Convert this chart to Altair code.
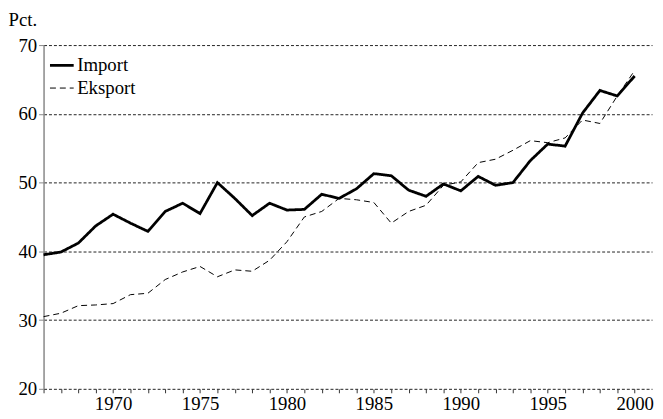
import altair as alt
import pandas as pd

years = list(range(1966, 2001))
import_vals = [39.5, 39.9, 41.2, 43.7, 45.4, 44.1, 42.9, 45.8, 47.0, 45.5,
               50.0, 47.7, 45.2, 47.0, 46.0, 46.1, 48.3, 47.7, 49.1, 51.3,
               51.0, 48.9, 48.0, 49.8, 48.8, 50.9, 49.6, 50.0, 53.2, 55.6,
               55.3, 60.1, 63.4, 62.6, 65.5]
export_vals = [30.5, 31.0, 32.1, 32.2, 32.4, 33.7, 33.9, 35.9, 37.0, 37.8,
               36.3, 37.3, 37.1, 38.7, 41.4, 45.0, 45.8, 47.7, 47.5, 47.1,
               44.1, 45.8, 46.7, 49.6, 50.1, 52.9, 53.4, 54.7, 56.1, 55.8,
               56.5, 59.1, 58.6, 62.6, 66.3]
series_names = ["Import", "Eksport"]
y_ticks = [20, 30, 40, 50, 60, 70]

df = pd.DataFrame({
    "year": years * 2,
    "value": import_vals + export_vals,
    "series": [series_names[0]] * len(years) + [series_names[1]] * len(years),
})

FONT = "Liberation Serif, Times New Roman, serif"
FS = 19

legend = alt.Legend(
    title=None, orient="none", legendX=5, legendY=7,
    symbolType="stroke", symbolSize=576, symbolStrokeColor="black",
    labelFont=FONT, labelFontSize=FS, labelColor="black", labelOffset=2,
    rowPadding=-9,
)

chart = alt.Chart(df).mark_line(color="black").encode(
    x=alt.X("year:Q",
            scale=alt.Scale(domain=[1966, 2001], nice=False, zero=False),
            axis=alt.Axis(values=years, format="d",
                          labelExpr="datum.value % 5 == 0 ? datum.label : ''",
                          title=None, grid=False, domain=False,
                          tickSize=4, tickColor="#333", tickWidth=1,
                          labelPadding=2, labelOverlap=False, labelFlush=False,
                          labelFont=FONT, labelFontSize=FS, labelColor="black")),
    y=alt.Y("value:Q",
            scale=alt.Scale(domain=[20, 70], nice=False, zero=False),
            axis=alt.Axis(values=y_ticks, title="Pct.", titleAngle=0,
                          titleX=-36, titleY=-20, titleAlign="left",
                          titleBaseline="alphabetic", titleFont=FONT,
                          titleFontSize=FS, titleFontWeight="normal",
                          titleColor="black",
                          grid=True, gridDash=[3, 2], gridColor="#222",
                          gridWidth=1, domainColor="#888", domainWidth=1.5,
                          tickColor="#888", tickSize=5, labelPadding=2,
                          labelFont=FONT, labelFontSize=FS, labelColor="black")),
    strokeDash=alt.StrokeDash("series:N",
                              scale=alt.Scale(domain=series_names, range=[[1, 0], [6, 4]]),
                              legend=legend),
    strokeWidth=alt.StrokeWidth("series:N",
                                scale=alt.Scale(domain=series_names, range=[2.8, 1.0]),
                                legend=legend),
).properties(
    width=616, height=348, autosize="none",
    padding={"left": 36, "top": 35, "right": 3, "bottom": 28},
).configure_view(stroke=None)

chart.save("out.html", embed_options={"renderer": "svg", "actions": False})
